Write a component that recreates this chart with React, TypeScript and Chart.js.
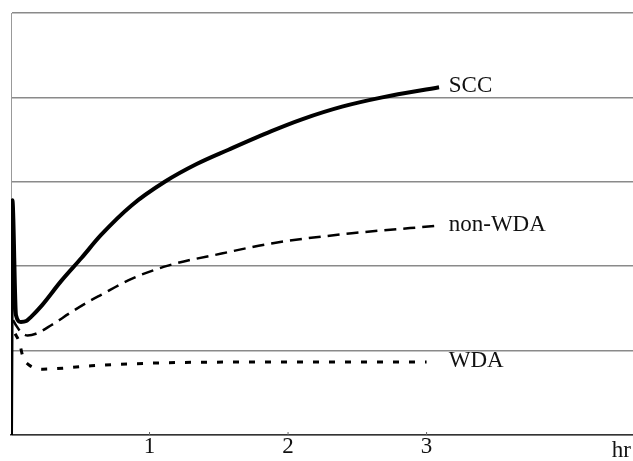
import React, { useEffect, useRef } from "react";
import { Chart, registerables } from "chart.js";

Chart.register(...registerables);

// time (hr) values and curve levels
const sccT = [0, 0.01, 0.036, 0.072, 0.11, 0.145, 0.22, 0.36, 0.51, 0.65, 0.87, 1.11, 1.34, 1.57, 1.88, 2.1, 2.39, 2.68, 3.09];
const sccV = [0, 2.78, 1.42, 1.34, 1.35, 1.4, 1.53, 1.82, 2.1, 2.37, 2.72, 3.0, 3.21, 3.38, 3.6, 3.74, 3.89, 4.0, 4.12];

const nonWdaT = [0.015, 0.036, 0.072, 0.12, 0.18, 0.29, 0.43, 0.56, 0.65, 0.87, 1.14, 1.52, 1.88, 2.46, 3.09];
const nonWdaV = [1.36, 1.3, 1.22, 1.18, 1.2, 1.3, 1.45, 1.58, 1.66, 1.85, 2.01, 2.15, 2.27, 2.39, 2.48];

const wdaT = [0.03, 0.06, 0.087, 0.13, 0.23, 0.58, 1.25, 2.0, 3.0];
const wdaV = [1.2, 1.1, 0.92, 0.83, 0.78, 0.82, 0.86, 0.865, 0.865];

const seriesNames = ["SCC", "non-WDA", "WDA"];
const xTickLabels = [1, 2, 3];
const xAxisTitle = "hr";
const labelAtT = 3.16;

const FONT = "'Liberation Serif', 'DejaVu Serif', serif";

function pts(t: number[], v: number[]) {
  return t.map((x, i) => ({ x, y: v[i] }));
}

export default function App() {
  const ref = useRef<HTMLCanvasElement | null>(null);

  useEffect(() => {
    if (!ref.current) return;
    const labelPlugin = {
      id: "annot",
      afterDatasetsDraw(chart: any) {
        const ctx = chart.ctx;
        const xs = chart.scales.x;
        const ys = chart.scales.y;
        const area = chart.chartArea;
        ctx.save();
        ctx.fillStyle = "#111";
        ctx.font = `23px ${FONT}`;
        ctx.textBaseline = "middle";
        ctx.textAlign = "left";
        chart.data.datasets.forEach((ds: any, i: number) => {
          const last = ds.data[ds.data.length - 1];
          ctx.fillText(seriesNames[i], xs.getPixelForValue(labelAtT), ys.getPixelForValue(last.y) - 1);
        });
        // x tick marks and labels
        ctx.textAlign = "center";
        ctx.textBaseline = "top";
        ctx.strokeStyle = "#666";
        ctx.lineWidth = 1;
        xTickLabels.forEach((v) => {
          const px = xs.getPixelForValue(v);
          ctx.beginPath();
          ctx.moveTo(px, area.bottom);
          ctx.lineTo(px, area.bottom - 3);
          ctx.stroke();
          ctx.fillText(String(v), px, area.bottom);
        });
        ctx.textAlign = "right";
        ctx.fillText(xAxisTitle, 631, area.bottom + 4);
        ctx.restore();
      },
    };

    const chart = new Chart(ref.current, {
      type: "line",
      data: {
        datasets: [
          {
            label: seriesNames[0],
            data: pts(sccT, sccV),
            borderColor: "#000",
            borderWidth: 4,
            pointRadius: 0,
            cubicInterpolationMode: "monotone",
          },
          {
            label: seriesNames[1],
            data: pts(nonWdaT, nonWdaV),
            borderColor: "#000",
            borderWidth: 2.5,
            borderDash: [12, 7],
            pointRadius: 0,
            cubicInterpolationMode: "monotone",
          },
          {
            label: seriesNames[2],
            data: pts(wdaT, wdaV),
            borderColor: "#000",
            borderWidth: 3,
            borderDash: [6, 10],
            pointRadius: 0,
            cubicInterpolationMode: "monotone",
          },
        ],
      },
      options: {
        responsive: false,
        animation: false,
        layout: { padding: { left: 11, top: 13, right: 0, bottom: 26 } },
        plugins: { legend: { display: false }, tooltip: { enabled: false } },
        scales: {
          x: {
            type: "linear",
            min: 0,
            max: 4.49,
            grid: { display: false, drawTicks: false },
            border: { display: true, color: "#333", width: 1.5 },
            ticks: { display: false },
          },
          y: {
            min: 0,
            max: 5,
            grid: { color: "#8a8a8a", lineWidth: 1.5, drawTicks: false },
            border: { display: true, color: "#999", width: 1 },
            ticks: { display: false, stepSize: 1 },
          },
        },
      },
      plugins: [labelPlugin],
    });
    return () => chart.destroy();
  }, []);

  return (
    <div style={{ position: "fixed", left: 0, top: 0, width: 633, height: 461, background: "#fff" }}>
      <canvas ref={ref} width={633} height={461} />
    </div>
  );
}
